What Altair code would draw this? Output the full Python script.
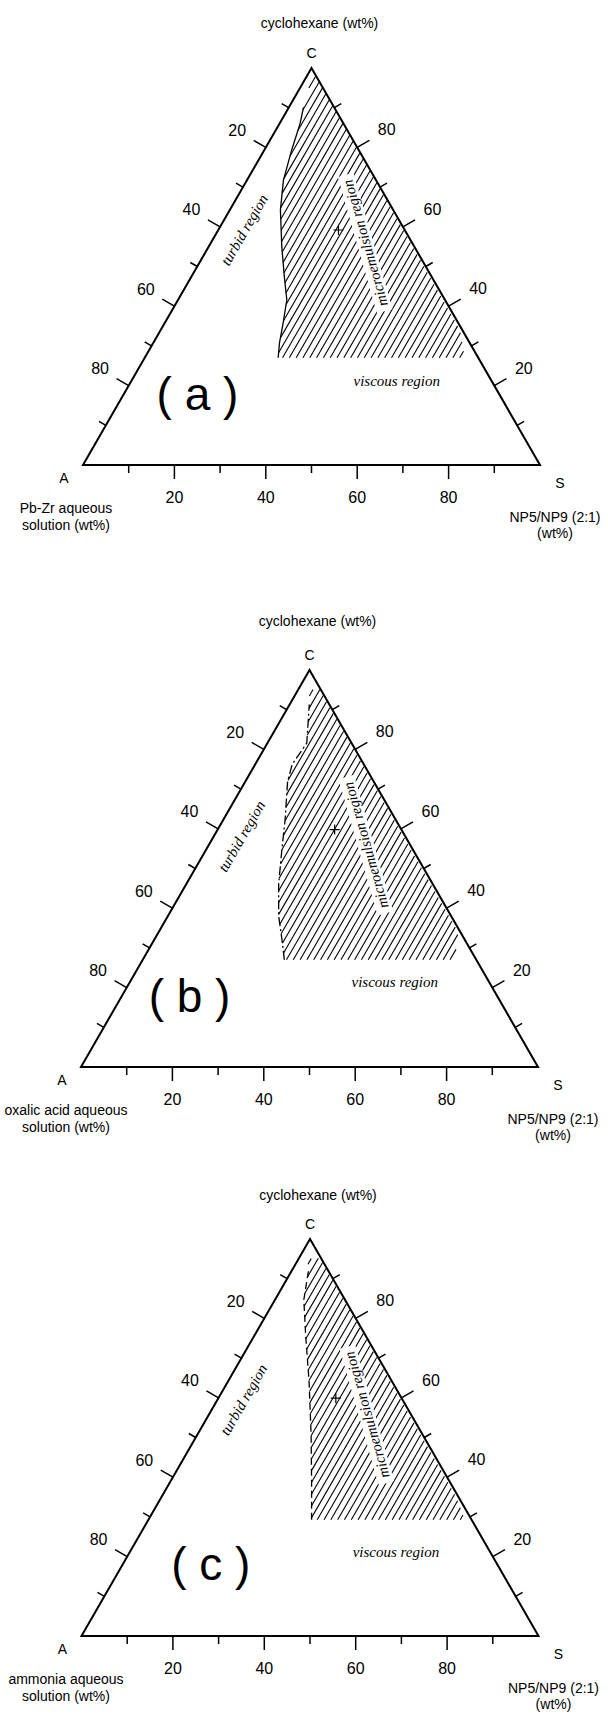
import altair as alt
import numpy as np
import pandas as pd

# ---------------- chart values ----------------
panel_keys = ["a", "b", "c"]
panel_labels = ["( a )", "( b )", "( c )"]
aqueous_titles = [["Pb-Zr aqueous", "solution (wt%)"],
                  ["oxalic acid aqueous", "solution (wt%)"],
                  ["ammonia aqueous", "solution (wt%)"]]
oil_title = "cyclohexane (wt%)"
surf_title = ["NP5/NP9 (2:1)", "(wt%)"]
vertex_names = ["A", "S", "C"]
tick_values = [10, 20, 30, 40, 50, 60, 70, 80, 90]
tick_labels = [20, 40, 60, 80]

# left boundary of the microemulsion region (S = NP5/NP9 wt%, C = cyclohexane wt%), bottom -> top
boundary_a_S = [29.2, 27.6, 25.9, 23.8, 20.3, 16.0, 11.1, 8.0, 6.0, 4.5, 3.2]
boundary_a_C = [27.0, 30.8, 35.8, 41.6, 47.5, 55.0, 64.2, 71.7, 79.3, 86.0, 90.1]
boundary_b_S = [31.0, 28.6, 24.2, 20.2, 16.1, 13.6, 9.3, 8.1, 8.6, 4.3]
boundary_b_C = [27.0, 31.0, 38.1, 46.1, 55.9, 62.1, 71.8, 76.2, 81.6, 91.3]
boundary_c_S = [35.7, 31.0, 25.0, 17.8, 11.2, 6.3, 3.7]
boundary_c_C = [29.3, 38.7, 50.5, 64.0, 75.7, 84.7, 91.9]

# closing of the hatched region (top near C, down the C-S edge, bottom-right corner)
closing_a_S = [1.2, 2.2, 65.5, 70.0]
closing_a_C = [97.8, 97.8, 34.0, 27.0]
closing_b_S = [2.5, 4.6, 65.5, 68.3]
closing_b_C = [95.0, 95.2, 34.0, 27.0]
closing_c_S = [2.0, 4.6, 64.5, 69.2]
closing_c_C = [95.0, 95.2, 35.0, 29.3]

# label anchor compositions (S, C)
turbid_pos = [(5.7, 59.2), (6.1, 58.1), (5.75, 59.5)]
viscous_pos = [(58.1, 21.1), (58.0, 21.3), (58.2, 21.2)]
micro_pos = [(33.8, 55.9), (34.4, 55.85), (34.6, 55.7)]
plus_pos = [(26.3, 59.2), (25.6, 59.8), (25.7, 59.9)]
panel_label_pos = [(16.3, 17.5), (15.1, 17.3), (19.5, 17.6)]

# ---------------- layout / style ----------------
W = 608
SIDE = 457.0
TRI_H = 397.0
PANEL_H = {"a": 585, "b": 575, "c": 558}
X0 = {"a": 83.0, "b": 81.0, "c": 81.5}
BASE = {"a": 465.0, "b": 482.0, "c": 476.0}
TITLE_OFF = {"a": 44, "b": 48, "c": 43}
DASH = {"a": None, "b": [9, 3, 2, 3], "c": [7, 4]}
HATCH_GAP = 5.9
HATCH_ANGLE = 60.0
MICRO_ANGLE = 254.0
SANS = "Liberation Sans"
SERIF = "Liberation Serif"


def to_px(S, C, key):
    S = np.asarray(S, float)
    C = np.asarray(C, float)
    x = X0[key] + (S + C / 2.0) / 100.0 * SIDE
    y = BASE[key] - C / 100.0 * TRI_H
    return x, y


def hatch_segments(P, spacing, angle_deg):
    th = np.radians(angle_deg)
    u = np.array([np.cos(th), -np.sin(th)])
    n = np.array([np.sin(th), np.cos(th)])
    proj = P @ n
    segs = []
    d = proj.min() + spacing / 2
    while d < proj.max():
        pts = []
        for i in range(len(P)):
            v1, v2 = P[i], P[(i + 1) % len(P)]
            f1, f2 = v1 @ n - d, v2 @ n - d
            if (f1 < 0) != (f2 < 0):
                t = f1 / (f1 - f2)
                pts.append(v1 + t * (v2 - v1))
        pts.sort(key=lambda q: q @ u)
        for j in range(0, len(pts) - 1, 2):
            segs.append((pts[j], pts[j + 1]))
        d += spacing
    return segs


def enc(h, rule=False):
    e = dict(
        x=alt.X("x:Q", scale=alt.Scale(domain=[0, W], nice=False, zero=False), axis=None),
        y=alt.Y("y:Q", scale=alt.Scale(domain=[0, h], nice=False, zero=False, reverse=True), axis=None),
    )
    if rule:
        e["x2"] = "x2:Q"
        e["y2"] = "y2:Q"
    return e


def unit(v):
    v = np.asarray(v, float)
    return v / np.hypot(*v)


def make_panel(i):
    key = panel_keys[i]
    h = PANEL_H[key]
    bS = [boundary_a_S, boundary_b_S, boundary_c_S][i]
    bC = [boundary_a_C, boundary_b_C, boundary_c_C][i]
    cS = [closing_a_S, closing_b_S, closing_c_S][i]
    cC = [closing_a_C, closing_b_C, closing_c_C][i]
    layers = []

    # hatching
    px, py = to_px(bS + cS, bC + cC, key)
    segs = hatch_segments(np.column_stack([px, py]), HATCH_GAP, HATCH_ANGLE)
    hatch_df = pd.DataFrame([dict(x=a[0], y=a[1], x2=b[0], y2=b[1]) for a, b in segs])
    layers.append(alt.Chart(hatch_df).mark_rule(color="black", strokeWidth=1.1).encode(**enc(h, True)))

    # white strip behind the microemulsion label
    mx, my = to_px(*micro_pos[i], key)
    th = np.radians(MICRO_ANGLE)
    u = np.array([np.cos(th), np.sin(th)])
    half = 71
    strip = pd.DataFrame([dict(x=float(mx - half * u[0]), y=float(my - half * u[1]),
                               x2=float(mx + half * u[0]), y2=float(my + half * u[1]))])
    layers.append(alt.Chart(strip).mark_rule(color="white", strokeWidth=16, strokeCap="butt")
                  .encode(**enc(h, True)))

    # boundary curve
    bx, by = to_px(bS, bC, key)
    bdf = pd.DataFrame({"x": bx, "y": by, "o": range(len(bx))})
    line_kw = dict(color="black", strokeWidth=1.3)
    if DASH[key] is not None:
        line_kw["strokeDash"] = DASH[key]
    layers.append(alt.Chart(bdf).mark_line(**line_kw).encode(**enc(h), order="o:Q"))

    # triangle outline A -> S -> C -> A -> S
    tS = [0, 100, 0, 0, 100]
    tC = [0, 0, 100, 0, 0]
    tx, ty = to_px(tS, tC, key)
    tdf = pd.DataFrame({"x": tx, "y": ty, "o": range(5)})
    layers.append(alt.Chart(tdf).mark_line(color="black", strokeWidth=2, strokeJoin="miter")
                  .encode(**enc(h), order="o:Q"))

    # ticks + tick labels
    ax_, ay_ = to_px(0, 0, key)
    sx_, sy_ = to_px(100, 0, key)
    cx_, cy_ = to_px(0, 100, key)
    n_left = unit([-(ay_ - cy_), -(cx_ - ax_)])
    n_right = unit([(sy_ - cy_), -(sx_ - cx_)])
    n_bot = np.array([0.0, 1.0])
    ticks, labels = [], []
    for v in tick_values:
        major = v in tick_labels
        L = 14 if major else 8
        for p, n, off in [(to_px(v, 0, key), n_bot, 33),
                          (to_px(0, 100 - v, key), n_left, 33),
                          (to_px(100 - v, v, key), n_right, 34)]:
            p = np.array([float(p[0]), float(p[1])])
            q = p + L * n
            ticks.append(dict(x=p[0], y=p[1], x2=q[0], y2=q[1]))
            if major:
                t = p + off * n
                labels.append(dict(x=t[0], y=t[1], t=str(v)))
    layers.append(alt.Chart(pd.DataFrame(ticks)).mark_rule(color="black", strokeWidth=1.5)
                  .encode(**enc(h, True)))
    layers.append(alt.Chart(pd.DataFrame(labels)).mark_text(font=SANS, fontSize=16, color="black",
                                                            align="center", baseline="middle")
                  .encode(**enc(h), text="t:N"))

    # vertex letters and axis titles (sans, 14px)
    small = [
        dict(x=float(ax_) - 19, y=float(ay_) + 14, t=vertex_names[0]),
        dict(x=float(sx_) + 20, y=float(sy_) + 19, t=vertex_names[1]),
        dict(x=float(cx_), y=float(cy_) - 14, t=vertex_names[2]),
        dict(x=float(cx_) + 8, y=float(cy_) - TITLE_OFF[key], t=oil_title),
        dict(x=66.0, y=float(ay_) + 44, t=aqueous_titles[i][0]),
        dict(x=66.0, y=float(ay_) + 61, t=aqueous_titles[i][1]),
        dict(x=float(sx_) + 15, y=float(sy_) + 53, t=surf_title[0]),
        dict(x=float(sx_) + 15, y=float(sy_) + 69, t=surf_title[1]),
    ]
    layers.append(alt.Chart(pd.DataFrame(small)).mark_text(font=SANS, fontSize=14, color="black",
                                                           align="center", baseline="middle")
                  .encode(**enc(h), text="t:N"))

    # region labels (italic serif)
    tx1, ty1 = to_px(*turbid_pos[i], key)
    vx1, vy1 = to_px(*viscous_pos[i], key)
    layers.append(alt.Chart(pd.DataFrame([dict(x=float(tx1), y=float(ty1), t="turbid region")]))
                  .mark_text(font=SERIF, fontStyle="italic", fontSize=15, angle=300, color="black",
                             align="center", baseline="middle")
                  .encode(**enc(h), text="t:N"))
    layers.append(alt.Chart(pd.DataFrame([dict(x=float(vx1), y=float(vy1), t="viscous region")]))
                  .mark_text(font=SERIF, fontStyle="italic", fontSize=15, color="black",
                             align="center", baseline="middle")
                  .encode(**enc(h), text="t:N"))
    layers.append(alt.Chart(pd.DataFrame([dict(x=float(mx), y=float(my), t="microemulsion region")]))
                  .mark_text(font=SERIF, fontStyle="italic", fontSize=15, angle=MICRO_ANGLE, color="black",
                             align="center", baseline="middle")
                  .encode(**enc(h), text="t:N"))

    # plus marker
    plx, ply = to_px(*plus_pos[i], key)
    layers.append(alt.Chart(pd.DataFrame([dict(x=float(plx), y=float(ply))]))
                  .mark_point(shape="M-1,0L1,0M0,-1L0,1", size=100, filled=False,
                              stroke="black", strokeWidth=1.2, opacity=1)
                  .encode(**enc(h)))

    # panel label
    lx, ly = to_px(*panel_label_pos[i], key)
    layers.append(alt.Chart(pd.DataFrame([dict(x=float(lx), y=float(ly), t=panel_labels[i])]))
                  .mark_text(font=SANS, fontSize=46, color="black", align="center", baseline="middle")
                  .encode(**enc(h), text="t:N"))

    return alt.layer(*layers).properties(
        width=W, height=h, view=alt.ViewBackground(strokeWidth=0, strokeOpacity=0, fill="white"))


chart = alt.vconcat(*[make_panel(i) for i in range(3)], spacing=0, bounds="flush", padding=0)
chart = chart.configure_view(strokeWidth=0, strokeOpacity=0).configure(background="white")
chart.save("out.html", embed_options={"renderer": "svg", "actions": False})
